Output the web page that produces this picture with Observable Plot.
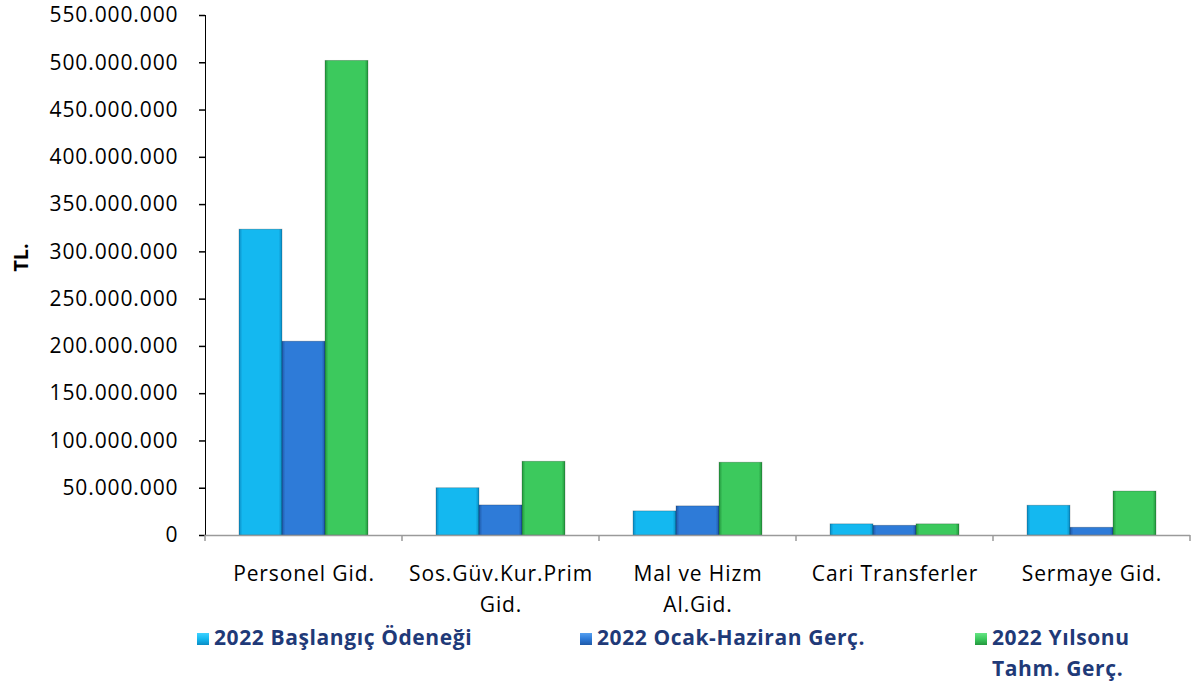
<!DOCTYPE html>
<html>
<head>
<meta charset="utf-8">
<script src="https://cdn.jsdelivr.net/npm/d3@7"></script>
<script src="https://cdn.jsdelivr.net/npm/@observablehq/plot@0.6"></script>
<style>
  body { margin: 0; background: #fff; }
  #wrap { position: relative; width: 1193px; height: 688px; font-family: "Open Sans", sans-serif; }
  #ylabel { position: absolute; left: 6px; top: 244px; transform: rotate(-90deg); transform-origin: center; font-weight: bold; font-size: 20px; color: #000; }
  .leg { position: absolute; font-weight: bold; font-size: 21px; letter-spacing: 0.6px; color: #1f3a78; line-height: 31px; font-family: "Open Sans", sans-serif; white-space: nowrap; }
  .leg .sw { display: inline-block; width: 12px; height: 12px; margin-right: 5px; vertical-align: 0px; }
</style>
</head>
<body>
<div id="wrap"></div>
<script>
const categories = ["Personel Gid.", "Sos.Güv.Kur.Prim Gid.", "Mal ve Hizm Al.Gid.", "Cari Transferler", "Sermaye Gid."];
const categoryLabels = ["Personel Gid.", "Sos.Güv.Kur.Prim\nGid.", "Mal ve Hizm\nAl.Gid.", "Cari Transferler", "Sermaye Gid."];
const series = ["2022 Başlangıç Ödeneği", "2022 Ocak-Haziran Gerç.", "2022 Yılsonu Tahm. Gerç."];
const baslangic = [323500000, 50000000, 25500000, 11800000, 31500000];
const ocakHaziran = [205000000, 31800000, 30800000, 10300000, 8200000];
const yilsonu = [502000000, 78000000, 77000000, 11800000, 46500000];
const yTicks = [0, 50000000, 100000000, 150000000, 200000000, 250000000, 300000000, 350000000, 400000000, 450000000, 500000000, 550000000];

const seriesValues = [baslangic, ocakHaziran, yilsonu];
const data = [];
categories.forEach((c, i) => series.forEach((s, j) => data.push({cat: c, series: s, value: seriesValues[j][i]})));

const colors = [
  {id: "g0", dark: "#0b8cc4", base: "#14b8f0", light: "#3fd2ff"},
  {id: "g1", dark: "#1f5aa8", base: "#2e7bd8", light: "#56a0f0"},
  {id: "g2", dark: "#23963d", base: "#3cc95d", light: "#66e584"}
];

const fmt = d3.formatLocale({decimal: ",", thousands: ".", grouping: [3], currency: ["", ""]}).format(",");
const labelOf = new Map(categories.map((c, i) => [c, categoryLabels[i]]));

const plot = Plot.plot({
  width: 1193,
  height: 622,
  marginLeft: 204,
  marginRight: 2,
  marginTop: 15,
  marginBottom: 87,
  style: {fontFamily: "Open Sans, sans-serif", fontSize: "21px", color: "#000", background: "transparent", letterSpacing: "0.9px"},
  fx: {domain: categories, padding: 0, label: null, axis: null},
  x: {domain: series, axis: null, paddingInner: 0, paddingOuter: 0.75},
  y: {domain: [0, 550000000], ticks: yTicks, tickFormat: fmt, tickSize: 6, tickPadding: 21, line: true, label: null},
  color: {domain: series, range: colors.map(c => `url(#${c.id})`)},
  marks: [
    Plot.barY(data, {fx: "cat", x: "series", y: "value", fill: "series", stroke: "rgba(0,0,0,0.25)", strokeWidth: 0.8}),
    Plot.ruleY([0], {stroke: "#9a9a9a", strokeWidth: 1.5}),
    Plot.text(categories, {fx: d => d, text: d => labelOf.get(d), frameAnchor: "bottom", lineAnchor: "top", dy: 24, lineHeight: 1.47, fill: "#000"})
  ]
});

const svg = d3.select(plot.tagName.toLowerCase() === "svg" ? plot : plot.querySelector("svg"));
const defs = svg.insert("defs", ":first-child");
colors.forEach(c => {
  const g = defs.append("linearGradient").attr("id", c.id).attr("x1", 0).attr("x2", 1).attr("y1", 0).attr("y2", 0);
  g.append("stop").attr("offset", "0%").attr("stop-color", c.dark);
  g.append("stop").attr("offset", "8%").attr("stop-color", c.base);
  g.append("stop").attr("offset", "50%").attr("stop-color", c.base);
  g.append("stop").attr("offset", "92%").attr("stop-color", c.base);
  g.append("stop").attr("offset", "100%").attr("stop-color", c.dark);
});
svg.selectAll("[aria-label='y-axis tick'], [aria-label='y-axis line']").attr("stroke", "#9a9a9a").attr("stroke-width", 1.5);

// category boundary ticks on the x axis, placed with the fx scale
const fx = plot.scale("fx");
const y = plot.scale("y");
const y0 = y.apply(0);
const bounds = categories.map(c => fx.apply(c)).concat([fx.apply(categories[categories.length - 1]) + fx.bandwidth]);
svg.append("g").selectAll("line").data(bounds).join("line")
  .attr("x1", d => d).attr("x2", d => d).attr("y1", y0).attr("y2", y0 + 6)
  .attr("stroke", "#9a9a9a").attr("stroke-width", 1.5);

const wrap = document.getElementById("wrap");
wrap.appendChild(plot);
const yl = document.createElement("div");
yl.id = "ylabel"; yl.textContent = "TL.";
wrap.appendChild(yl);

const legPos = [{left: 197}, {left: 580}, {left: 975}];
const legText = ["2022 Başlangıç Ödeneği", "2022 Ocak-Haziran Gerç.", "2022 Yılsonu<br><span style=\"padding-left:17px\">Tahm. Gerç.</span>"];
series.forEach((s, j) => {
  const d = document.createElement("div");
  d.className = "leg";
  d.style.left = legPos[j].left + "px";
  d.style.top = "622px";
  d.innerHTML = `<span class="sw" style="background:linear-gradient(${colors[j].light},${colors[j].base} 50%,${colors[j].dark})"></span>` + legText[j];
  wrap.appendChild(d);
});
</script>
</body>
</html>
